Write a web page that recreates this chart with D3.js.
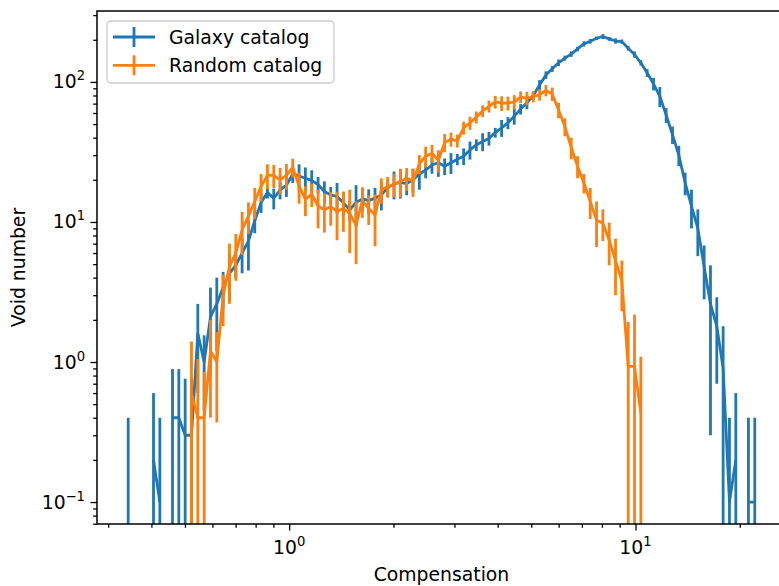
<!DOCTYPE html>
<html>
<head>
<meta charset="utf-8">
<script src="https://cdn.jsdelivr.net/npm/d3@7"></script>
<style>
  body { margin: 0; background: #fff; }
  text { font-family: "DejaVu Sans", sans-serif; fill: #000; }
</style>
</head>
<body>
<div id="root"></div>
<script>
// Bin logaritmici dell'istogramma (primo centro, ultimo centro, numero di bin)
const binFirst = 0.3428;
const binLast = 22.1;
const nBins = 100;

// Numero di void per bin - catalogo di galassie
const galaxyValues = [
    0.1, 0, 0, 0, 0.2, 0.1, 0, 0.4, 0.4, 0.3,
    0.3, 1.6, 1.0, 2.1, 2.6, 3.4, 4.3, 4.9, 6.0, 7.3,
    10.2, 13.8, 16.2, 14.8, 16.9, 18.3, 22, 21.3, 20.5, 19.8,
    18.5, 16.5, 15.6, 15.2, 13.7, 12.2, 13.8, 14.6, 14.2, 14.8,
    15.6, 17.5, 18.7, 19.2, 18.8, 20, 22, 23.5, 25.5, 26.5,
    25, 26.5, 28, 29.5, 32.7, 35.5, 37.5, 39.5, 43.5, 47,
    51, 57, 64, 71, 80, 95, 112, 124, 137, 148,
    158, 172, 187, 195, 205, 211, 203, 196, 194, 174,
    157, 137, 116, 97, 79, 58, 42, 30, 19, 13,
    9.0, 4.8, 2.6, 1.8, 0.9, 0.1, 0.2, 0, 0.1, 0.1
];
const galaxyErrors = [
    0.3, 0, 0, 0, 0.4, 0.3, 0, 0.49, 0.49, 0.46,
    0.46, 1.0, 0.55, 1.3, 1.4, 1.0, 1.6, 0.9, 1.7, 2.8,
    1.9, 2.2, 1.5, 2.5, 2.4, 3.2, 3.0, 4.5, 4.0, 3.6,
    2.5, 3.0, 2.2, 3.8, 2.6, 2.0, 4.5, 2.6, 2.9, 2.7,
    3.5, 2.4, 4.2, 4.5, 3.3, 3.8, 5.0, 3.0, 3.4, 5.5,
    3.4, 4.5, 2.6, 4.0, 4.8, 3.4, 5.5, 4.4, 3.5, 6.5,
    5.0, 7.5, 5.5, 7.0, 5.5, 8.0, 7.0, 6.0, 7.5, 6.0,
    7.0, 6.5, 8.0, 7.5, 6.0, 8.5, 6.5, 8.5, 7.0, 6.5,
    8.0, 6.0, 7.5, 10, 13, 7, 6, 5, 3.5, 4.0,
    3.3, 2.0, 2.3, 1.1, 0.9, 0.3, 0.4, 0, 0.3, 0.3
];

// Numero di void per bin - catalogo random
const randomValues = [
    0, 0, 0, 0, 0, 0, 0, 0, 0, 0,
    0.6, 0.4, 0.4, 1.2, 1.0, 3.0, 4.8, 6.0, 8.8, 11,
    14, 18, 21.5, 21.5, 20, 21.5, 24.5, 18, 14.5, 15.8,
    13, 12.2, 12.9, 11.9, 12.5, 11.5, 9.5, 14.2, 12.5, 11.2,
    17, 17.9, 18.5, 19.5, 20.5, 19.6, 26, 29.5, 31, 27.5,
    37, 39, 38, 47, 51, 56, 62, 67, 72, 70.5,
    70.5, 72, 78, 76.5, 78.5, 81, 87, 82, 63, 48,
    34, 25, 19, 14, 10.3, 9.8, 7.4, 5.3, 3.8, 0.93,
    0.93, 0.43, 0, 0, 0, 0, 0, 0, 0, 0,
    0, 0, 0, 0, 0, 0, 0, 0, 0, 0
];
const randomErrors = [
    0, 0, 0, 0, 0, 0, 0, 0, 0, 0,
    0.8, 0.65, 0.45, 0.8, 0.63, 1.2, 2.2, 2.2, 3.0, 2.8,
    3.5, 4.0, 4.3, 4.0, 4.3, 4.5, 3.8, 4.5, 3.5, 3.0,
    4.0, 3.8, 3.5, 4.5, 4.0, 5.5, 4.5, 3.5, 3.0, 4.5,
    3.5, 3.0, 3.5, 4.5, 3.8, 4.5, 4.0, 5.0, 4.5, 5.0,
    5.5, 4.5, 4.0, 5.0, 5.5, 5.5, 6.0, 6.5, 7.5, 8.5,
    8.0, 8.5, 7.5, 8.5, 7.0, 7.5, 8.0, 9.0, 8.0, 7.0,
    6.0, 4.5, 3.0, 3.5, 3.7, 2.5, 2.5, 2.3, 1.5, 1.0,
    1.25, 0.66, 0, 0, 0, 0, 0, 0, 0, 0,
    0, 0, 0, 0, 0, 0, 0, 0, 0, 0
];

// Etichette e tick
const seriesNames = ["Galaxy catalog", "Random catalog"];
const seriesColors = ["#1f77b4", "#ff7f0e"];
const xMajorTicks = [1, 10];
const yMajorTicks = [0.1, 1, 10, 100];
const xTitle = "Compensation";
const yTitle = "Void number";

// Dimensioni della figura e dei margini
const W = 779, H = 586;
const margin = { top: 11, left: 97 };
const width = 689;
const height = 513;
const fontSize = 18.8;
const lw = 2.8;

// Centri dei bin (spaziatura logaritmica)
const step = Math.log10(binLast / binFirst) / (nBins - 1);
const centers = d3.range(nBins).map(i => binFirst * Math.pow(10, i * step));

// Scale logaritmiche
const xScale = d3.scaleLog()
    .domain([0.2786, 27.2])
    .range([0, width]);
const yScale = d3.scaleLog()
    .domain([0.0697, 321])
    .range([height, 0]);

// Creazione della SVG
const svgRoot = d3.select("#root").append("svg")
    .attr("width", W)
    .attr("height", H)
    .style("display", "block");

const svg = svgRoot.append("g")
    .attr("transform", `translate(${margin.left},${margin.top})`);

// Area di clip
svg.append("clipPath")
    .attr("id", "clip")
    .append("rect")
    .attr("width", width)
    .attr("height", height);

const plot = svg.append("g").attr("clip-path", "url(#clip)");

// Linea con interruzione dove il valore e' zero
const line = d3.line()
    .defined(d => d.v > 0)
    .x(d => xScale(d.x))
    .y(d => yScale(d.v));

const series = [
    { values: galaxyValues, errors: galaxyErrors },
    { values: randomValues, errors: randomErrors }
];

series.forEach((s, si) => {
    const pts = centers.map((x, i) => ({ x: x, v: s.values[i], e: s.errors[i] }));
    const g = plot.append("g");

    // Linea dati
    g.append("path")
        .datum(pts)
        .attr("fill", "none")
        .attr("stroke", seriesColors[si])
        .attr("stroke-width", lw)
        .attr("stroke-linejoin", "round")
        .attr("d", line);

    // Barre d'errore
    g.selectAll("line.err")
        .data(pts.filter(d => d.v > 0))
        .enter().append("line")
        .attr("class", "err")
        .attr("x1", d => xScale(d.x))
        .attr("x2", d => xScale(d.x))
        .attr("y1", d => yScale(d.v + d.e))
        .attr("y2", d => d.v - d.e > 0 ? yScale(d.v - d.e) : height + 20)
        .attr("stroke", seriesColors[si])
        .attr("stroke-width", lw);
});

// Assi: tick maggiori e minori
const xMinor = xScale.ticks().filter(t => !xMajorTicks.some(m => Math.abs(m - t) < 1e-9));
const yMinor = yScale.ticks().filter(t => !yMajorTicks.some(m => Math.abs(m - t) < 1e-9));

const axesGroup = svg.append("g").attr("class", "axes");

axesGroup.append("g")
    .attr("transform", `translate(0,${height})`)
    .call(d3.axisBottom(xScale).tickValues(xMajorTicks).tickSize(6.5).tickSizeOuter(0).tickFormat(""));
axesGroup.append("g")
    .attr("transform", `translate(0,${height})`)
    .call(d3.axisBottom(xScale).tickValues(xMinor).tickSize(3.8).tickSizeOuter(0).tickFormat(""));
axesGroup.append("g")
    .call(d3.axisLeft(yScale).tickValues(yMajorTicks).tickSize(6.5).tickSizeOuter(0).tickFormat(""));
axesGroup.append("g")
    .call(d3.axisLeft(yScale).tickValues(yMinor).tickSize(3.8).tickSizeOuter(0).tickFormat(""));

axesGroup.selectAll(".domain").remove();
axesGroup.selectAll(".tick line")
    .attr("stroke", "#000")
    .attr("stroke-width", 1.3);

// Cornice
svg.append("rect")
    .attr("width", width)
    .attr("height", height)
    .attr("fill", "none")
    .attr("stroke", "#000")
    .attr("stroke-width", 1.5);

// Etichette con esponente
function powLabel(sel, t) {
    const exp = Math.round(Math.log10(t));
    sel.append("tspan").text("10");
    sel.append("tspan")
        .attr("dy", -8)
        .attr("font-size", fontSize * 0.7)
        .text(exp < 0 ? "\u2212" + Math.abs(exp) : String(exp));
}

xMajorTicks.forEach(t => {
    svg.append("text")
        .attr("x", xScale(t))
        .attr("y", height + 30)
        .attr("text-anchor", "middle")
        .attr("font-size", fontSize)
        .call(powLabel, t);
});

yMajorTicks.forEach(t => {
    svg.append("text")
        .attr("x", -12)
        .attr("y", yScale(t) + 6.5)
        .attr("text-anchor", "end")
        .attr("font-size", fontSize)
        .call(powLabel, t);
});

// Titoli degli assi
svg.append("text")
    .attr("x", width / 2)
    .attr("y", height + 57)
    .attr("text-anchor", "middle")
    .attr("font-size", fontSize)
    .text(xTitle);

svg.append("text")
    .attr("transform", `translate(${-72},${height / 2}) rotate(-90)`)
    .attr("text-anchor", "middle")
    .attr("font-size", fontSize)
    .text(yTitle);

// Legenda
const legend = svg.append("g")
    .attr("transform", "translate(10,10)");

legend.append("rect")
    .attr("width", 227)
    .attr("height", 62)
    .attr("rx", 4)
    .attr("fill", "#fff")
    .attr("fill-opacity", 0.8)
    .attr("stroke", "#cccccc")
    .attr("stroke-width", 1.35);

seriesNames.forEach((name, i) => {
    const ly = 16 + i * 28.3;
    const item = legend.append("g").attr("transform", `translate(0,${ly})`);
    item.append("line")
        .attr("x1", 6).attr("x2", 48)
        .attr("y1", 0).attr("y2", 0)
        .attr("stroke", seriesColors[i])
        .attr("stroke-width", lw);
    item.append("line")
        .attr("x1", 27).attr("x2", 27)
        .attr("y1", -10).attr("y2", 10)
        .attr("stroke", seriesColors[i])
        .attr("stroke-width", lw);
    item.append("text")
        .attr("x", 62)
        .attr("y", 7)
        .attr("font-size", fontSize)
        .text(name);
});
</script>
</body>
</html>
